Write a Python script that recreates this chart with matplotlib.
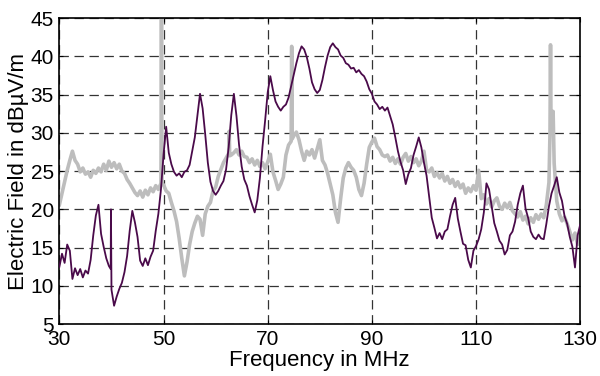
import numpy as np
import matplotlib
matplotlib.use("Agg")
import matplotlib.pyplot as plt

plt.rcParams['font.family'] = ['Liberation Sans', 'DejaVu Sans']

# frequency grid in MHz, one value every 0.5 MHz from 30 to 130
freq = np.arange(30, 130.01, 0.5)

# dark trace (dBuV/m)
field_purple = [
    12.5, 14.2, 13.0, 15.4, 14.6, 10.9, 12.3, 11.4, 12.2, 11.1,
    12.0, 11.6, 13.4, 16.6, 19.2, 20.6, 16.8, 15.1, 13.6, 12.6,
    9.5, 7.4, 8.6, 9.6, 10.4, 11.8, 13.9, 17.2, 19.8, 18.3,
    16.4, 13.3, 12.6, 13.6, 12.7, 13.8, 14.6, 17.2, 19.4, 22.6,
    27.2, 30.8, 27.4, 25.9, 24.9, 24.4, 24.7, 24.2, 24.9, 25.1,
    25.8, 27.6, 29.4, 32.2, 35.1, 33.2, 29.8, 26.1, 23.6, 22.4,
    21.9, 22.4, 23.1, 23.7, 25.2, 28.1, 32.3, 35.1, 32.2, 28.4,
    25.6, 23.9, 23.1, 21.7, 20.6, 19.6, 21.2, 24.1, 28.2, 31.6,
    35.3, 37.4, 35.6, 34.1, 33.4, 32.9, 33.4, 33.7, 34.6, 36.1,
    37.6, 39.1, 40.4, 41.3, 40.9, 39.9, 38.4, 36.6, 35.7, 35.2,
    35.6, 36.9, 38.6, 40.1, 41.2, 41.7, 41.2, 40.9, 40.1, 39.8,
    39.1, 38.9, 38.4, 38.5, 37.9, 38.2, 37.7, 37.4, 36.7, 35.7,
    35.1, 34.1, 33.7, 33.1, 33.4, 32.9, 33.3, 32.2, 31.1, 29.4,
    27.6, 26.2, 25.1, 23.3, 24.6, 25.4, 27.1, 28.2, 29.4, 28.1,
    26.1, 24.4, 21.6, 18.9, 17.6, 16.2, 16.9, 16.1, 17.1, 17.4,
    19.1, 20.6, 21.5, 18.8, 17.1, 15.5, 15.3, 13.4, 12.4, 14.6,
    15.2, 16.1, 17.4, 19.6, 23.4, 22.6, 20.4, 18.2, 17.1, 15.9,
    15.4, 14.1, 14.7, 16.6, 17.1, 18.4, 20.6, 22.1, 23.1, 20.1,
    18.9, 17.1, 16.4, 16.1, 16.7, 16.2, 16.1, 18.1, 20.4, 22.1,
    23.1, 24.2, 22.2, 21.1, 19.1, 18.1, 16.4, 15.1, 12.4, 16.6,
    18.0,
]
# narrow spikes that fall between grid points
purple_spike_f = [39.85, 39.9]
purple_spike_v = [12.2, 20.0]

# light grey trace (dBuV/m)
field_grey = [
    20.6, 22.1, 23.6, 25.1, 26.4, 27.6, 26.4, 25.9, 24.9, 25.4,
    24.6, 24.9, 24.2, 25.1, 24.7, 25.4, 24.9, 25.9, 25.1, 26.3,
    25.5, 26.1, 25.3, 25.9, 25.0, 24.7, 23.9, 23.4, 22.8, 22.2,
    21.8, 22.4, 21.6, 22.5, 21.9, 22.8, 22.3, 23.1, 22.6, 23.4,
    23.2, 22.4, 22.1, 20.9, 19.8, 18.4, 16.2, 13.6, 11.3, 13.1,
    15.4, 17.1, 18.2, 19.1, 18.7, 16.6, 19.4, 20.4, 20.9, 22.4,
    22.9, 24.3, 25.2, 26.1, 26.7, 27.3, 27.1, 27.4, 27.8, 27.1,
    27.6, 26.9, 26.8, 26.1, 26.6, 25.8, 26.4, 25.6, 26.1, 25.3,
    26.2, 27.2, 24.9, 23.8, 22.6, 23.3, 24.2, 27.1, 28.4, 28.9,
    29.6, 30.1, 29.1, 27.6, 26.4, 27.6, 27.1, 27.8, 26.7, 27.9,
    29.1, 26.4, 25.8, 24.7, 23.3, 21.9, 19.6, 18.3, 21.4, 24.1,
    25.4, 26.1, 25.5, 25.1, 24.2, 22.6, 21.8, 23.4, 25.9, 28.1,
    28.8, 29.3, 28.2, 27.8, 27.1, 26.9, 27.1, 26.3, 26.8, 26.0,
    26.6, 25.9, 26.8, 27.3, 26.3, 26.9, 26.1, 26.6, 25.7, 26.3,
    27.6, 25.1, 24.9, 25.4, 24.3, 24.8, 24.1, 24.7, 23.7, 24.3,
    23.4, 23.9, 23.0, 23.6, 22.8, 23.3, 22.1, 22.8, 22.3, 23.1,
    22.5, 25.1, 21.4, 21.9, 20.7, 21.4, 20.3, 21.1, 21.5, 20.4,
    20.0, 20.8, 20.2, 20.9, 19.8, 19.4, 19.0, 19.7, 18.6, 19.1,
    18.1, 18.9, 18.3, 19.3, 18.7, 19.4, 18.9, 20.6, 23.5, 31.0,
    26.0, 21.1, 19.4, 18.5, 19.0, 18.1, 17.1, 16.0, 16.9, 15.4,
    17.0,
]
grey_spike_f = [49.6, 49.7, 62.6, 62.7, 74.6, 74.7, 124.2, 124.3, 124.4, 124.8]
grey_spike_v = [46.0, 23.3, 30.2, 27.0, 41.3, 29.2, 30.0, 41.5, 30.5, 32.8]

x_ticks = [30, 50, 70, 90, 110, 130]
y_ticks = [5, 10, 15, 20, 25, 30, 35, 40, 45]


def with_spikes(f, v, sf, sv):
    ff = np.concatenate([f, sf])
    vv = np.concatenate([v, sv])
    order = np.argsort(ff, kind='stable')
    return ff[order], vv[order]


fp, vp = with_spikes(freq, field_purple, purple_spike_f, purple_spike_v)
fg, vg = with_spikes(freq, field_grey, grey_spike_f, grey_spike_v)

fig = plt.figure(figsize=(6, 3.76), dpi=100)
ax = fig.add_axes([0.099, 0.138, 0.868, 0.814])

ax.plot(fp, vp, color='#4a0a4a', linewidth=1.3, zorder=3)
ax.plot(fg, vg, color='#bdbdbd', linewidth=2.6, zorder=2)

ax.set_xlim(30, 130)
ax.set_ylim(5, 45)
ax.set_xticks(x_ticks)
ax.set_yticks(y_ticks)
ax.grid(True, color='#333333', linestyle=(0, (7.5, 4.5)), linewidth=0.9, zorder=0)
ax.set_axisbelow(True)
ax.tick_params(direction='in', length=3, labelsize=15, pad=4,
               top=True, right=True)
for s in ax.spines.values():
    s.set_linewidth(1.2)

ax.set_xlabel("Frequency in MHz", fontsize=16, labelpad=1)
ax.set_ylabel("Electric Field in dBµV/m", fontsize=16, labelpad=1)

plt.savefig("out.png", dpi=100)
